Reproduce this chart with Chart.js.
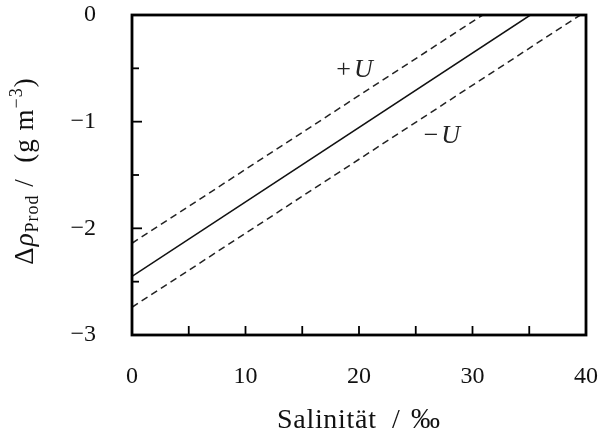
<!DOCTYPE html>
<html>
<head>
<meta charset="utf-8">
<script src="https://cdn.jsdelivr.net/npm/chart.js@4.4.1/dist/chart.umd.min.js"></script>
<style>
  html, body { margin: 0; padding: 0; background: #fff; }
  #wrap { width: 598px; height: 439px; }
</style>
</head>
<body>
<div id="wrap"><canvas id="c" width="598" height="439"></canvas></div>
<script>
// Salinity (‰) at the line end points
const salinityCentral = [0, 35.1];
const salinityUpper = [0, 30.9];
const salinityLower = [0, 39.5];
// Density change of the product (g m^-3)
const deltaRhoCentral = [-2.45, 0];
const deltaRhoUpper = [-2.14, 0];
const deltaRhoLower = [-2.74, 0];

const xTicks = [0, 10, 20, 30, 40];
const yTicks = [-3, -2, -1, 0];

// Uncertainty band labels
const bandLabels = [
  { sign: '+', x: 19.6, y: -0.52 },
  { sign: '\u2212', x: 27.3, y: -1.14 }
];

const SERIF = '"Liberation Serif", "DejaVu Serif", serif';

function pts(xs, ys) { return xs.map((x, i) => ({ x: x, y: ys[i] })); }

const framePlugin = {
  id: 'frame',
  afterDraw(chart) {
    const ctx = chart.ctx;
    const a = chart.chartArea;
    const xs = chart.scales.x, ys = chart.scales.y;
    ctx.save();
    ctx.strokeStyle = '#000';
    // inward ticks, bottom axis every 5
    ctx.lineWidth = 1.8;
    for (let v = 5; v < 40; v += 5) {
      const px = xs.getPixelForValue(v);
      ctx.beginPath(); ctx.moveTo(px, a.bottom); ctx.lineTo(px, a.bottom - 9); ctx.stroke();
    }
    // inward ticks, left axis every 0.5
    for (let v = -2.5; v < 0; v += 0.5) {
      const py = ys.getPixelForValue(v);
      const major = Math.abs(v - Math.round(v)) < 1e-6;
      ctx.beginPath(); ctx.moveTo(a.left, py); ctx.lineTo(a.left + (major ? 10 : 7), py); ctx.stroke();
    }
    // frame
    ctx.lineWidth = 2.8;
    ctx.strokeRect(a.left, a.top, a.right - a.left, a.bottom - a.top);

    // band labels
    ctx.fillStyle = '#222';
    ctx.textBaseline = 'middle';
    ctx.textAlign = 'left';
    bandLabels.forEach(l => {
      const cx = xs.getPixelForValue(l.x), cy = ys.getPixelForValue(l.y);
      ctx.font = '26px ' + SERIF;
      const w1 = ctx.measureText(l.sign).width + 3;
      ctx.font = 'italic 26px ' + SERIF;
      const w2 = ctx.measureText('U').width;
      const x0 = cx - (w1 + w2) / 2;
      ctx.font = '26px ' + SERIF;
      ctx.fillText(l.sign, x0, cy);
      ctx.font = 'italic 26px ' + SERIF;
      ctx.fillText('U', x0 + w1, cy);
    });

    // x axis title
    ctx.fillStyle = '#111';
    ctx.textBaseline = 'alphabetic';
    const cxT = (a.left + a.right) / 2;
    ctx.font = '28px ' + SERIF;
    ctx.letterSpacing = '0.7px';
    ctx.textAlign = 'left';
    ctx.fillText('Salinität', cxT - 82, 428);
    ctx.letterSpacing = '0px';
    ctx.textAlign = 'center';
    ctx.fillText('/', cxT + 37, 428);
    ctx.font = '29px ' + SERIF;
    ctx.textAlign = 'left';
    ctx.fillText('\u2030', cxT + 52, 428);

    // y axis title, rotated, with subscript and superscript
    const parts = [
      { t: '\u0394', f: '27px ' + SERIF, dy: 0 },
      { t: '\u03C1', f: 'italic 27px ' + SERIF, dy: 0 },
      { t: 'Prod', f: '18px ' + SERIF, dy: 5 },
      { t: ' /  (g m', f: '27px ' + SERIF, dy: 0 },
      { t: '\u22123', f: '18px ' + SERIF, dy: -11 },
      { t: ')', f: '27px ' + SERIF, dy: 0 }
    ];
    ctx.letterSpacing = '1px';
    let total = 0;
    parts.forEach(p => { ctx.font = p.f; p.w = ctx.measureText(p.t).width; total += p.w; });
    ctx.translate(33, 171);
    ctx.rotate(-Math.PI / 2);
    ctx.textAlign = 'left';
    let x = -total / 2;
    parts.forEach(p => { ctx.font = p.f; ctx.fillText(p.t, x, p.dy); x += p.w; });
    ctx.restore();
  }
};

new Chart(document.getElementById('c'), {
  type: 'scatter',
  data: {
    datasets: [
      { data: pts(salinityCentral, deltaRhoCentral), borderColor: '#111', borderWidth: 1.5 },
      { data: pts(salinityUpper, deltaRhoUpper), borderColor: '#222', borderWidth: 1.5, borderDash: [7, 4.5] },
      { data: pts(salinityLower, deltaRhoLower), borderColor: '#222', borderWidth: 1.5, borderDash: [7, 4.5] }
    ].map(d => Object.assign(d, { showLine: true, pointRadius: 0, fill: false }))
  },
  options: {
    responsive: false,
    animation: false,
    events: [],
    layout: { padding: { top: 15, right: 12, left: 0, bottom: 0 } },
    plugins: { legend: { display: false }, tooltip: { enabled: false } },
    scales: {
      x: {
        type: 'linear', min: 0, max: 40,
        afterFit(s) { s.height = 104; s.paddingLeft = 0; s.paddingRight = 0; },
        afterBuildTicks(s) { s.ticks = xTicks.map(v => ({ value: v })); },
        grid: { display: false, drawTicks: false },
        border: { display: false },
        ticks: { padding: 27, color: '#111', font: { family: SERIF, size: 24 }, maxRotation: 0 }
      },
      y: {
        type: 'linear', min: -3, max: 0,
        afterFit(s) { s.width = 132; s.paddingTop = 0; s.paddingBottom = 0; },
        afterBuildTicks(s) { s.ticks = yTicks.map(v => ({ value: v })); },
        grid: { display: false, drawTicks: false },
        border: { display: false },
        ticks: {
          padding: 36, color: '#111', font: { family: SERIF, size: 24 },
          callback: v => (v < 0 ? '\u2212' + Math.abs(v) : String(v))
        }
      }
    }
  },
  plugins: [framePlugin]
});
</script>
</body>
</html>
